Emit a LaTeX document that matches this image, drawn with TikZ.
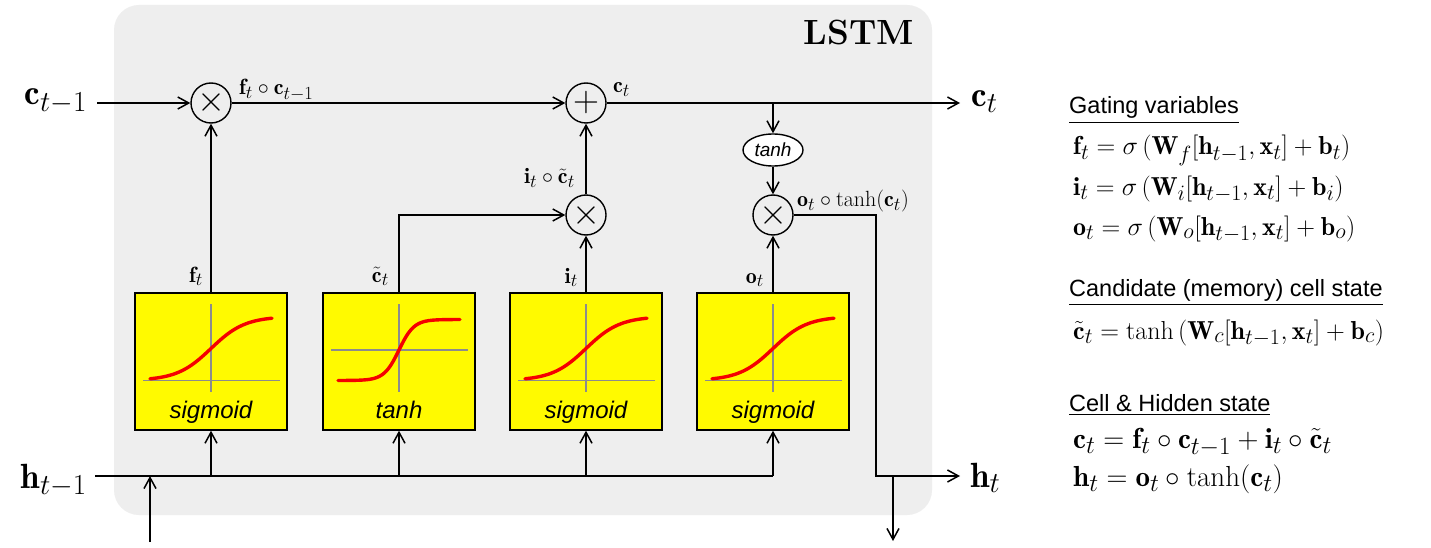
\RequirePackage{fix-cm}
\documentclass[tikz,border=0pt]{standalone}
\usepackage{amsmath}
\usepackage{fontspec}
\setsansfont{Liberation Sans}
\usetikzlibrary{shapes.geometric, arrows.meta, positioning, calc}
\definecolor{cCell}{RGB}{238,238,238}
\definecolor{cGate}{RGB}{255,250,0}
\definecolor{cCurve}{RGB}{245,0,0}
\definecolor{cAxis}{RGB}{140,140,140}
% larger subscripts, as in the figure
\DeclareMathSizes{35}{35}{29}{22}
\DeclareMathSizes{22}{22}{18.5}{14}
\DeclareMathSizes{26}{26}{22}{17}
\DeclareMathSizes{29}{29}{25}{19}
\tikzset{
	opnode/.style   ={circle, draw=black, line width=1.4pt, minimum size=40pt, inner sep=0pt, font=\fontsize{36}{36}\selectfont},
	gatebox/.style  ={rectangle, draw=black, line width=1.4pt, fill=cGate, minimum width=152pt, minimum height=137pt, inner sep=0pt},
	squash/.style   ={ellipse, draw=black, line width=1.4pt, fill=white, minimum width=60pt, minimum height=32pt, inner sep=0pt, font=\sffamily\itshape\fontsize{19}{19}\selectfont},
	flowarrow/.style={-{Straight Barb[length=11pt,width=12pt,line width=1.5pt]}, line width=1.6pt},
	wire/.style     ={line width=1.6pt},
	% text styles
	biglabel/.style ={inner sep=0pt, font=\fontsize{35}{35}\selectfont},
	smalllabel/.style={inner sep=0pt, font=\fontsize{22}{22}\selectfont},
	actname/.style  ={inner sep=0pt, anchor=base, font=\sffamily\itshape\fontsize{24}{24}\selectfont},
	heading/.style  ={inner sep=0pt, anchor=base west, font=\sffamily\fontsize{23.5}{23.5}\selectfont},
	eqline/.style   ={inner sep=0pt, anchor=base west, font=\fontsize{26}{26}\selectfont},
	eqbig/.style    ={inner sep=0pt, anchor=base west, font=\fontsize{29}{29}\selectfont},
	% activation plots
	axisline/.style ={draw=cAxis, line width=1.2pt},
	actcurve/.style ={draw=cCurve, line width=3.4pt, line cap=round},
}

\begin{document}
\begin{tikzpicture}[x=1pt, y=-1pt]
	\useasboundingbox (0,0) rectangle (1431,548);
	\fill[white] (0,0) rectangle (1431,548);
	\fill[cCell, rounded corners=25pt] (114,5) rectangle (932,515);
	\node[inner sep=0pt, anchor=base east, font=\bfseries\fontsize{35}{35}\selectfont] (title) at (914,45) {LSTM};

	% operators
	\node[opnode] (mulf) at (211,103) {$\times$};
	\node[opnode] (addc) at (586,103) {$+$};
	\node[opnode] (muli) at (586,215) {$\times$};
	\node[opnode] (mulo) at (773,215) {$\times$};
	\node[squash] (tanhc) at (773,150) {tanh};

	% gates
	\node[gatebox] (sigf) at (211,361.5) {};
	\node[gatebox] (tanhg) at (399,361.5) {};
	\node[gatebox] (sigi) at (586,361.5) {};
	\node[gatebox] (sigo) at (773,361.5) {};
	\foreach \g in {sigf,sigi,sigo}{
		\begin{scope}[shift={(\g.center)}]
			\draw[axisline] (-68,19) -- (69,19);
			\draw[axisline] (0,-57.5) -- (0,30.5);
			\draw[actcurve] plot[domain=-61:61, samples=60, smooth] (\x,{19-64/(1+exp(-(\x)/17))});
			\node[actname] (\g-name) at (0,56.5) {sigmoid};
		\end{scope}
	}
	\begin{scope}[shift={(tanhg.center)}]
		\draw[axisline] (-68,-11.5) -- (69,-11.5);
		\draw[axisline] (0,-57.5) -- (0,30.5);
		\draw[actcurve] plot[domain=-61:61, samples=80, smooth] (\x,{-11.5-30.5*tanh((\x)/15)});
		\node[actname] (tanhg-name) at (0,56.5) {tanh};
	\end{scope}

	% outer labels and free ends
	\node[biglabel, anchor=base east] (cprev) at (87,105) {$\mathbf{c}_{t-1}$};
	\node[biglabel, anchor=base west] (cnext) at (971,107) {$\mathbf{c}_t$};
	\node[biglabel, anchor=base east] (hprev) at (87,488) {$\mathbf{h}_{t-1}$};
	\node[biglabel, anchor=base west] (hnext) at (970,487) {$\mathbf{h}_t$};
	\coordinate (cin) at (97,103);
	\coordinate (cout) at (960,103);
	\coordinate (cbr) at (773,103);
	\coordinate (hin) at (95,476);
	\coordinate (hout) at (960,476);
	\coordinate (hturn) at (876,476);
	\coordinate (hsplit) at (893,476);
	\coordinate (hbelow) at (893,541);
	\coordinate (xin) at (150,542);
	\coordinate (xjoin) at (150,476);

	% cell state
	\draw[flowarrow] (cin) -- (mulf);
	\draw[flowarrow] (mulf) -- (addc);
	\draw[flowarrow] (addc) -- (cout);
	\draw[flowarrow] (cbr) -- (tanhc);
	\draw[flowarrow] (tanhc) -- (mulo);
	\draw[flowarrow] (sigf) -- (mulf);
	\draw[flowarrow] (tanhg) |- (muli);
	\draw[flowarrow] (sigi) -- (muli);
	\draw[flowarrow] (muli) -- (addc);
	\draw[flowarrow] (sigo) -- (mulo);

	% hidden state
	\draw[wire] (hin) -- (sigo |- hin);
	\foreach \g in {sigf,tanhg,sigi,sigo}
		\draw[flowarrow] (\g |- hin) -- (\g);
	\draw[flowarrow] (xin) -- (xjoin);
	\draw[flowarrow] (mulo) -| (hturn) -- (hout);
	\draw[flowarrow] (hsplit) -- (hbelow);

	% signal labels
	\node[smalllabel, anchor=base west] (lfc) at (239,95) {$\mathbf{f}_t\circ\mathbf{c}_{t-1}$};
	\node[smalllabel, anchor=base west] (lc) at (613,93) {$\mathbf{c}_t$};
	\node[smalllabel, anchor=base east] (lic) at (575,184) {$\mathbf{i}_t\circ\tilde{\mathbf{c}}_t$};
	\node[smalllabel, anchor=base west] (loc) at (797,207) {$\mathbf{o}_t\circ\tanh(\mathbf{c}_t)$};
	\node[smalllabel, anchor=base east] (lf) at (203,282) {$\mathbf{f}_t$};
	\node[smalllabel, anchor=base east] (lct) at (389,282) {$\tilde{\mathbf{c}}_t$};
	\node[smalllabel, anchor=base east] (li) at (578,283) {$\mathbf{i}_t$};
	\node[smalllabel, anchor=base east] (lo) at (764,283) {$\mathbf{o}_t$};

	% equations
	\node[heading] (hdgate) at (1069,114) {\underline{Gating variables}};
	\node[eqline] (eqf) at (1073,155) {$\mathbf{f}_t = \sigma\,(\mathbf{W}_f[\mathbf{h}_{t-1},\mathbf{x}_t] + \mathbf{b}_t)$};
	\node[eqline] (eqi) at (1073,195) {$\mathbf{i}_t = \sigma\,(\mathbf{W}_i[\mathbf{h}_{t-1},\mathbf{x}_t] + \mathbf{b}_i)$};
	\node[eqline] (eqo) at (1073,235) {$\mathbf{o}_t = \sigma\,(\mathbf{W}_o[\mathbf{h}_{t-1},\mathbf{x}_t] + \mathbf{b}_o)$};
	\node[heading] (hdcand) at (1069,296) {\underline{Candidate (memory) cell state}};
	\node[eqline] (eqcand) at (1073,339) {$\tilde{\mathbf{c}}_t = \tanh\,(\mathbf{W}_c[\mathbf{h}_{t-1},\mathbf{x}_t] + \mathbf{b}_c)$};
	\node[heading] (hdcell) at (1069,411) {\underline{Cell \& Hidden state}};
	\node[eqbig] (eqcell) at (1073,448) {$\mathbf{c}_t = \mathbf{f}_t\circ\mathbf{c}_{t-1} + \mathbf{i}_t\circ\tilde{\mathbf{c}}_t$};
	\node[eqbig] (eqhid) at (1073,486) {$\mathbf{h}_t = \mathbf{o}_t\circ\tanh(\mathbf{c}_t)$};
\end{tikzpicture}
\end{document}
